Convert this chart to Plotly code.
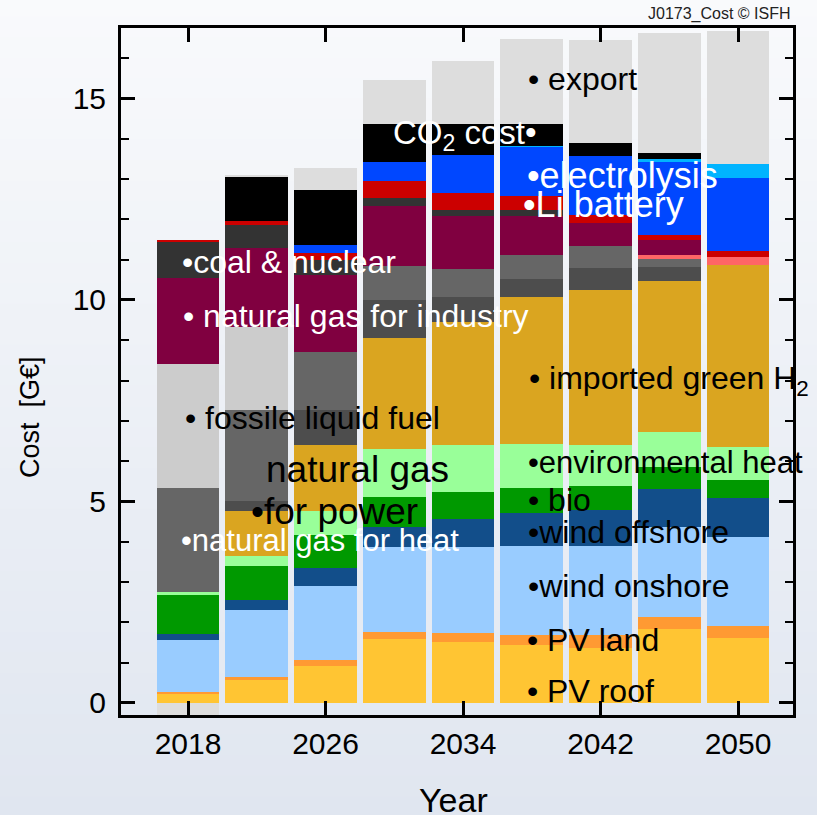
import plotly.graph_objects as go

# ---------------- data (G€) ----------------
years = [2018, 2022, 2026, 2030, 2034, 2038, 2042, 2046, 2050]

pv_roof        = [0.24, 0.57, 0.92, 1.58, 1.50, 1.44, 1.36, 1.83, 1.60]
pv_land        = [0.04, 0.08, 0.15, 0.19, 0.24, 0.25, 0.33, 0.31, 0.31]
wind_onshore   = [1.27, 1.66, 1.84, 2.09, 2.14, 2.21, 2.21, 2.22, 2.20]
wind_offshore  = [0.16, 0.25, 0.44, 0.50, 0.68, 0.81, 0.90, 0.94, 0.98]
bio            = [0.97, 0.84, 0.82, 0.76, 0.68, 0.63, 0.59, 0.56, 0.44]
env_heat       = [0.08, 0.25, 0.60, 1.18, 1.16, 1.09, 1.01, 0.87, 0.81]
green_h2       = [0.00, 1.12, 1.63, 2.75, 3.06, 3.65, 3.85, 3.74, 4.53]
gas_power      = [0.00, 0.25, 0.87, 0.95, 0.62, 0.43, 0.54, 0.36, 0.00]
gas_heat       = [2.57, 2.25, 1.45, 0.84, 0.68, 0.61, 0.55, 0.18, 0.00]
other_salmon   = [0.00, 0.00, 0.00, 0.00, 0.00, 0.00, 0.00, 0.11, 0.20]
fossil_liquid  = [3.08, 2.07, 0.00, 0.00, 0.00, 0.00, 0.00, 0.00, 0.00]
gas_industry   = [2.13, 1.94, 1.90, 1.50, 1.33, 0.96, 0.56, 0.37, 0.00]
coal_nuclear   = [0.91, 0.58, 0.38, 0.20, 0.14, 0.15, 0.00, 0.00, 0.00]
li_battery     = [0.04, 0.11, 0.16, 0.41, 0.42, 0.35, 0.21, 0.12, 0.15]
electrolysis   = [0.00, 0.00, 0.20, 0.48, 0.95, 1.22, 1.46, 1.82, 1.80]
other_cyan     = [0.00, 0.00, 0.00, 0.00, 0.00, 0.03, 0.00, 0.06, 0.35]
co2_cost       = [0.00, 1.09, 1.37, 0.95, 0.76, 0.54, 0.33, 0.16, 0.00]
export         = [-0.30, 0.05, 0.54, 1.09, 1.57, 2.11, 2.55, 2.98, 3.31]

x_ticks = [2018, 2026, 2034, 2042, 2050]
y_ticks = [0, 5, 10, 15]

# ---------------- styles ----------------
series = [
    ("PV roof", pv_roof, "#FFC533"),
    ("PV land", pv_land, "#FF9A33"),
    ("wind onshore", wind_onshore, "#99CCFF"),
    ("wind offshore", wind_offshore, "#124E8A"),
    ("bio", bio, "#009900"),
    ("environmental heat", env_heat, "#99FF99"),
    ("imported green H2", green_h2, "#DAA520"),
    ("natural gas for power", gas_power, "#4D4D4D"),
    ("natural gas for heat", gas_heat, "#666666"),
    ("other", other_salmon, "#FF6666"),
    ("fossile liquid fuel", fossil_liquid, "#CCCCCC"),
    ("natural gas for industry", gas_industry, "#800040"),
    ("coal & nuclear", coal_nuclear, "#333333"),
    ("Li battery", li_battery, "#CC0000"),
    ("electrolysis", electrolysis, "#0047FF"),
    ("other storage", other_cyan, "#00B4FF"),
    ("CO2 cost", co2_cost, "#000000"),
    ("export", export, "#DDDDDD"),
]

FONT = "Liberation Sans, Arial, sans-serif"

fig = go.Figure()
for name, vals, col in series:
    fig.add_trace(go.Bar(
        x=years, y=vals, name=name, width=3.66,
        marker=dict(color=col, line=dict(width=0)),
        hoverinfo="name+y",
    ))

# background gradient (decoration)
top_c = (249, 250, 252)
bot_c = (224, 230, 240)
n = 40
y_top, y_bot = 1.045, -0.150
shapes = []
for i in range(n):
    t = (i + 0.5) / n
    c = tuple(int(round(top_c[k] + (bot_c[k] - top_c[k]) * t)) for k in range(3))
    y1 = y_top + (y_bot - y_top) * i / n
    y0 = y_top + (y_bot - y_top) * (i + 1) / n
    shapes.append(dict(type="rect", xref="paper", yref="paper", x0=-0.2, x1=1.05,
                       y0=y0 - 0.002, y1=y1 + 0.002, fillcolor="rgb(%d,%d,%d)" % c,
                       line=dict(width=0), layer="below"))

# labels: (text, x, y, color, size, xanchor)
labels = [
    ("• export", 2037.65, 15.48, "black", 32, "left"),
    ("CO<sub>2</sub> cost•", 2038.4, 14.09, "white", 33, "right"),
    ("•electrolysis", 2037.6, 13.10, "white", 36, "left"),
    ("•Li battery", 2037.4, 12.36, "white", 36, "left"),
    ("•coal & nuclear", 2017.55, 10.94, "white", 32, "left"),
    ("• natural gas for industry", 2017.6, 9.60, "white", 32, "left"),
    ("• fossile liquid fuel", 2017.7, 7.07, "black", 32, "left"),
    ("natural gas", 2022.42, 5.80, "black", 37, "left"),
    ("•for power", 2021.55, 4.76, "black", 37, "left"),
    ("•natural gas for heat", 2017.5, 4.04, "white", 31, "left"),
    ("• imported green H<sub>2</sub>", 2037.7, 7.99, "black", 32, "left"),
    ("•environmental heat", 2037.65, 5.96, "black", 31, "left"),
    ("• bio", 2037.65, 5.04, "black", 32, "left"),
    ("•wind offshore", 2037.65, 4.24, "black", 32, "left"),
    ("•wind onshore", 2037.65, 2.90, "black", 32, "left"),
    ("• PV land", 2037.6, 1.56, "black", 32, "left"),
    ("• PV roof", 2037.6, 0.30, "black", 32, "left"),
]
annotations = []
for text, x, y, col, size, xa in labels:
    annotations.append(dict(x=x, y=y, xref="x", yref="y", text=text, showarrow=False,
                            xanchor=xa, yanchor="middle",
                            font=dict(family=FONT, size=size, color=col)))
annotations.append(dict(x=1.0, y=1.0, xref="paper", yref="paper", yshift=3,
                        text="J0173_Cost © ISFH", showarrow=False,
                        xanchor="right", yanchor="bottom",
                        font=dict(family=FONT, size=16, color="#222")))
# axis titles
annotations.append(dict(x=-0.135, y=7.1, xref="paper", yref="y", text="Cost  [G€]",
                        showarrow=False, textangle=-90, xanchor="center", yanchor="middle",
                        font=dict(family=FONT, size=27, color="black")))
annotations.append(dict(x=0.4955, y=-0.124, xref="paper", yref="paper", text="Year",
                        showarrow=False, xanchor="center", yanchor="middle",
                        font=dict(family=FONT, size=34, color="black")))

fig.update_layout(
    width=817, height=815,
    margin=dict(l=121, r=24, t=28, b=100),
    barmode="relative", bargap=0.0,
    showlegend=False,
    paper_bgcolor="rgb(236,240,246)",
    plot_bgcolor="rgba(0,0,0,0)",
    shapes=shapes,
    annotations=annotations,
    font=dict(family=FONT, color="black"),
)
fig.update_xaxes(
    range=[2014.1, 2053.2], tickmode="array", tickvals=x_ticks,
    ticktext=[str(v) for v in x_ticks],
    ticks="inside", ticklen=14, tickwidth=3, tickcolor="black",
    showline=True, linewidth=3, linecolor="black", mirror="ticks",
    showgrid=False, zeroline=False,
    tickfont=dict(family=FONT, size=30),
    ticklabelstandoff=0,
)
fig.update_yaxes(
    range=[-0.3, 16.75], tickmode="array", tickvals=y_ticks,
    ticks="inside", ticklen=14, tickwidth=3, tickcolor="black",
    minor=dict(dtick=1, tick0=0, ticks="inside", ticklen=8, tickwidth=2, tickcolor="black"),
    showline=True, linewidth=3, linecolor="black", mirror="ticks",
    showgrid=False, zeroline=False,
    tickfont=dict(family=FONT, size=30),
    ticklabelstandoff=6,
)

fig.write_html("out.html",
               config={"displayModeBar": False},
               post_script="document.body.style.margin='0px';"
                           "document.body.style.background='rgb(228,233,242)';")
